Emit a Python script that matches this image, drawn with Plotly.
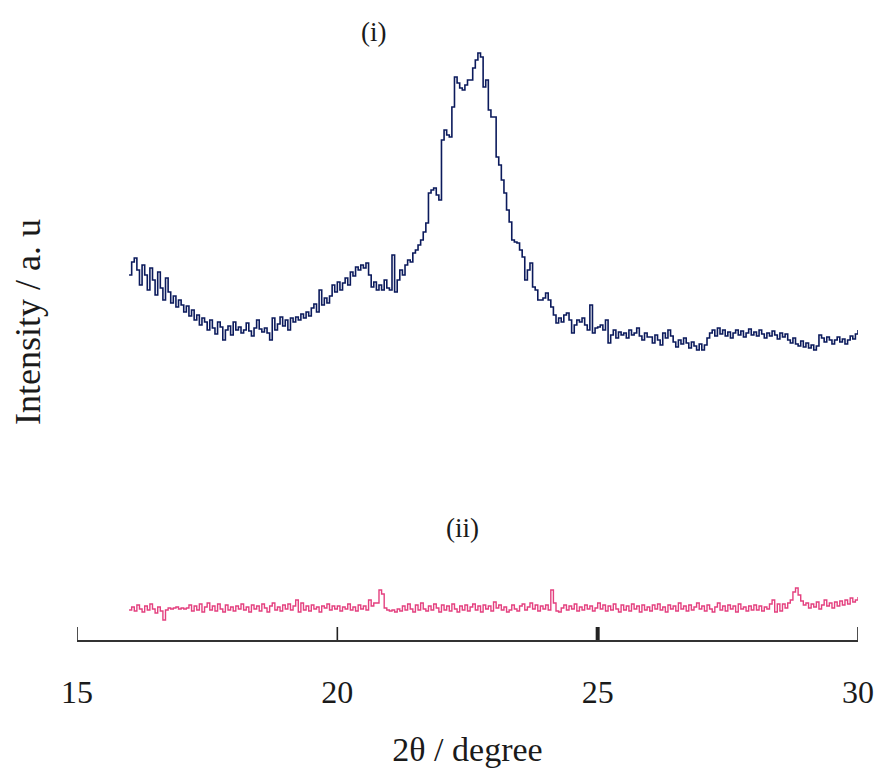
import plotly.graph_objects as go

# 2-theta range of both scans
theta_start = 16.0
theta_end = 30.0

# (i) blue scan, intensity (a.u.), one row per degree (step 0.05 deg)
sample_i = (
    [365,378,382,370,355,375,365,350,372,360,345,368,352,340,362,348,337,344,333,340] +  # 16
    [335,328,334,324,330,320,325,315,322,318,310,320,312,306,318,313,300,310,314,305] +  # 17
    [318,310,313,307,310,317,309,304,312,320,311,308,312,307,300,322,310,316,323,314] +  # 18
    [320,310,322,318,323,320,326,322,328,324,332,336,328,350,335,342,337,344,355,348] +  # 19
    [358,350,357,362,355,368,364,373,370,375,372,377,365,353,358,350,355,350,360,352] +  # 20
    [350,385,348,360,370,365,375,380,378,387,390,395,400,408,417,447,450,452,445,440] +  # 21
    [500,510,505,503,533,563,557,552,550,555,560,560,572,580,587,583,553,560,530,523] +  # 22
    [523,483,475,460,447,430,418,400,398,397,390,383,360,370,377,353,350,340,340,342] +  # 23
    [347,340,333,325,317,322,318,325,327,320,307,315,320,318,322,315,310,335,307,312] +  # 24
    [313,315,310,320,297,305,310,302,308,305,307,302,310,305,307,312,304,300,307,303] +  # 25
    [303,297,305,300,295,307,302,310,304,298,293,300,296,302,297,292,298,294,290,296] +  # 26
    [290,295,302,307,310,304,312,306,310,304,308,302,307,310,305,309,303,307,311,305] +  # 27
    [308,304,310,306,302,307,304,309,305,301,307,303,306,300,297,302,296,294,299,293] +  # 28
    [297,292,295,290,294,305,302,298,303,300,296,300,303,298,301,296,300,304,301,306] +  # 29
    [310]                                                                               # 30
)

# (ii) pink scan, intensity (a.u.)
sample_ii = (
    [30,33,29,35,31,28,34,30,36,31,27,33,29,20,30,32,31,32,33,31] +  # 16
    [32,31,32,35,29,34,30,36,28,33,37,30,34,29,36,31,28,35,30,33] +  # 17
    [29,34,31,36,30,33,28,35,31,34,29,36,32,28,34,37,30,33,29,35] +  # 18
    [31,36,30,34,40,28,37,30,34,29,35,31,33,28,34,32,36,30,34,31] +  # 19
    [34,29,33,31,36,30,33,29,35,31,34,30,40,34,37,37,50,46,32,30] +  # 20
    [29,30,28,31,29,34,30,36,31,28,35,30,37,31,29,34,30,36,32,28] +  # 21
    [35,30,34,29,36,31,28,34,30,35,29,33,36,30,34,28,35,31,34,29] +  # 22
    [38,32,35,30,33,28,30,35,31,29,34,36,30,33,37,31,35,29,34,31] +  # 23
    [35,30,50,37,29,28,32,35,30,34,31,36,29,33,30,35,31,34,29,32] +  # 24
    [37,31,35,29,34,30,36,31,28,35,30,34,29,36,31,34,28,35,30,33] +  # 25
    [29,35,31,36,30,33,28,35,31,34,29,37,31,34,29,35,30,33,37,31] +  # 26
    [34,29,35,31,28,33,37,30,34,29,35,31,34,28,36,31,33,29,34,30] +  # 27
    [35,30,34,29,33,31,36,40,28,36,29,36,32,37,40,48,52,45,39,35] +  # 28
    [37,32,36,33,38,31,35,40,34,37,32,38,34,39,35,40,36,42,38,40] +  # 29
    [43]                                                             # 30
)

tick_vals = [15, 20, 25, 30]
tick_text = ["15", "20", "25", "30"]
x_title = "2θ / degree"
y_title = "Intensity / a. u"
label_i = "(i)"
label_ii = "(ii)"


def grid(n):
    step = (theta_end - theta_start) / (n - 1)
    return [theta_start + i * step for i in range(n)]


SERIF = "Liberation Serif, Times New Roman, serif"
INK = "#1a1a1a"
TICK_H = 13 / 600  # tick length as a fraction of the plot height

fig = go.Figure()
fig.add_trace(go.Scatter(
    x=grid(len(sample_i)), y=sample_i, mode="lines",
    line=dict(color="#0b1a5c", width=1.6, shape="hv"), showlegend=False,
))
fig.add_trace(go.Scatter(
    x=grid(len(sample_ii)), y=sample_ii, mode="lines",
    line=dict(color="#e4407f", width=1.4, shape="hv"), showlegend=False,
))

# tick marks drawn as shapes so the ones at both ends of the axis are visible too
tick_shapes = []
for v in tick_vals:
    w = 4 if v == 25 else 1.6
    tick_shapes.append(dict(type="line", xref="x", yref="paper", x0=v, x1=v,
                            y0=0, y1=TICK_H, line=dict(color="#222222", width=w)))

fig.update_layout(
    width=876, height=777,
    margin=dict(l=77, r=18, t=40, b=137),
    paper_bgcolor="white", plot_bgcolor="white",
    font=dict(family=SERIF, color=INK),
    xaxis=dict(
        range=[15, 30], tickvals=tick_vals, ticktext=tick_text,
        automargin=False,
        showline=True, linecolor="#333333", linewidth=1.6,
        ticks="", showgrid=False, zeroline=False,
        tickfont=dict(family=SERIF, size=32, color=INK),
        ticklabelstandoff=23,
        title=dict(text=x_title, font=dict(family=SERIF, size=34, color=INK), standoff=28),
    ),
    yaxis=dict(
        range=[0, 600], visible=False, showgrid=False, zeroline=False,
        automargin=False,
    ),
    annotations=[
        dict(text=label_i, x=20.7, y=(640 - 32) / 600, xref="x", yref="paper",
             xanchor="center", yanchor="middle",
             showarrow=False, font=dict(family=SERIF, size=27, color=INK)),
        dict(text=label_ii, x=22.41, y=(640 - 528) / 600, xref="x", yref="paper",
             xanchor="center", yanchor="middle",
             showarrow=False, font=dict(family=SERIF, size=27, color=INK)),
        dict(text=y_title, x=-49 / 781, y=(640 - 322) / 600, xref="paper", yref="paper",
             xanchor="center", yanchor="middle",
             textangle=-90, showarrow=False,
             font=dict(family=SERIF, size=36, color=INK)),
    ],
    shapes=tick_shapes,
)

fig.write_html(
    "out.html",
    config={"displayModeBar": False},
    post_script="document.body.style.margin='0';document.body.style.overflow='hidden';",
)
